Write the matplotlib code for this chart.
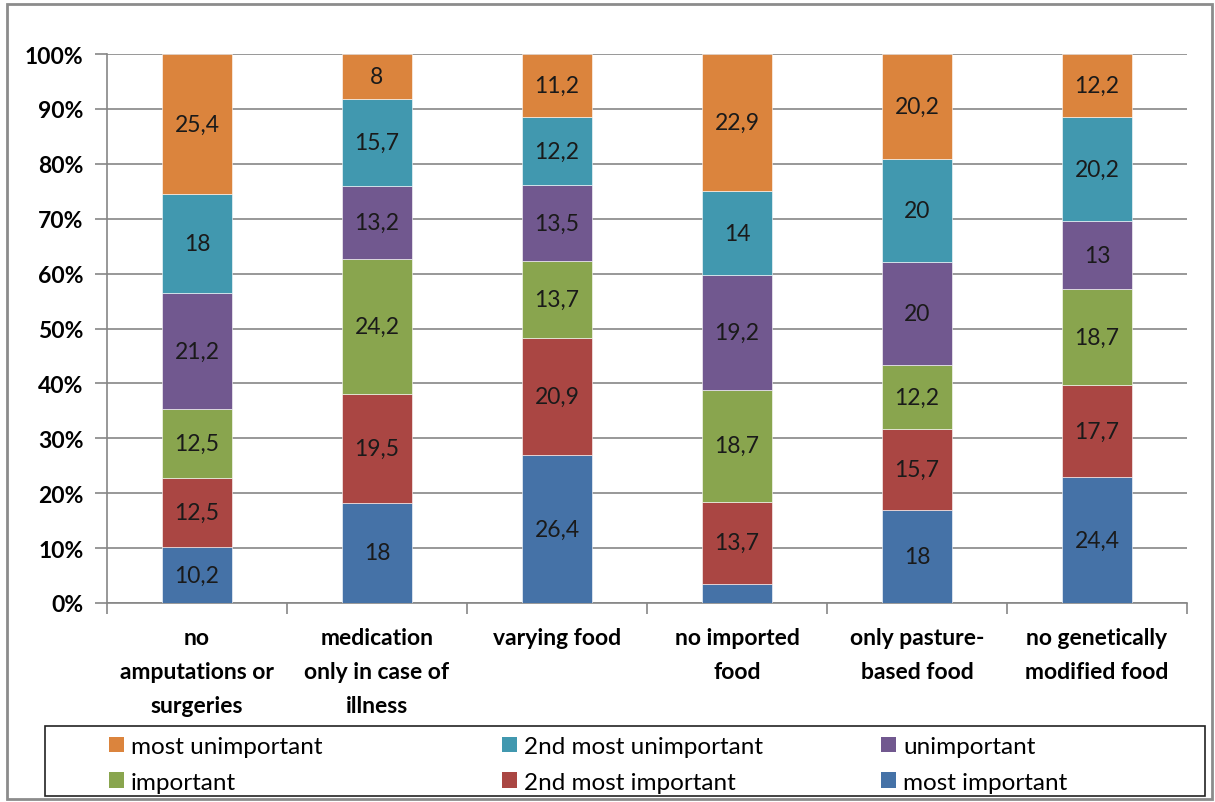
import matplotlib
matplotlib.use("Agg")
import matplotlib.pyplot as plt
from matplotlib.patches import Rectangle, Patch
import numpy as np

plt.rcParams['font.family'] = ['Lato', 'DejaVu Sans']

categories = ["no\namputations or\nsurgeries", "medication\nonly in case of\nillness",
              "varying food", "no imported\nfood", "only pasture-\nbased food",
              "no genetically\nmodified food"]
series_names = ["most important", "2nd most important", "important",
                "unimportant", "2nd most unimportant", "most unimportant"]
most_important = [10.2, 18, 26.4, 3.2, 18, 24.4]
second_most_important = [12.5, 19.5, 20.9, 13.7, 15.7, 17.7]
important = [12.5, 24.2, 13.7, 18.7, 12.2, 18.7]
unimportant = [21.2, 13.2, 13.5, 19.2, 20, 13]
second_most_unimportant = [18, 15.7, 12.2, 14, 20, 20.2]
most_unimportant = [25.4, 8, 11.2, 22.9, 20.2, 12.2]
# the small blue slice of "no imported food" carries no label in the original
hidden_labels = [(0, 3)]

colors = ["#4572A7", "#AA4643", "#89A54E", "#71588F", "#4198AF", "#DB843D"]

data = np.array([most_important, second_most_important, important,
                 unimportant, second_most_unimportant, most_unimportant])
pct = data / data.sum(axis=0) * 100

fig = plt.figure(figsize=(12.15, 8.03), dpi=100)
ax = fig.add_axes([107/1215, 1-604/803, 1080/1215, 549/803])

x = np.arange(len(categories))
bottom = np.zeros(len(categories))
for i, name in enumerate(series_names):
    ax.bar(x, pct[i], 0.39, bottom=bottom, color=colors[i],
           edgecolor="#ffffff", linewidth=0.4, zorder=3, label=name)
    for j in range(len(categories)):
        if (i, j) in hidden_labels:
            continue
        txt = ("%g" % data[i, j]).replace(".", ",")
        ax.text(x[j], bottom[j] + pct[i, j] / 2, txt, ha="center", va="center",
                fontsize=16.5, color="#1a1a1a", zorder=4)
    bottom += pct[i]

ax.set_xlim(-0.5, 5.5)
ax.set_ylim(0, 100)
ax.set_yticks(np.arange(0, 101, 10))
ax.set_yticklabels(["%d%%" % v for v in range(0, 101, 10)], fontsize=16.5,
                   fontweight="bold")
ax.set_xticks(x)
ax.set_xticklabels(categories, fontsize=16.5, fontweight="bold", linespacing=1.78)
ax.set_xticks(np.arange(-0.5, 6, 1), minor=True)
ax.tick_params(axis="x", which="major", length=0, pad=17)
ax.tick_params(axis="x", which="minor", length=8, color="#868686", width=1.2)
ax.tick_params(axis="y", length=9, color="#868686", width=1.2, pad=8)
ax.grid(axis="y", color="#868686", linewidth=1.2, zorder=0)
for s in ["top", "right"]:
    ax.spines[s].set_visible(False)
for s in ["left", "bottom"]:
    ax.spines[s].set_color("#868686")
    ax.spines[s].set_linewidth(1.2)

# legend box with three columns filled row by row
fig.add_artist(Rectangle((45/1215, 1-797/803), 1160/1215, 70/803,
                         transform=fig.transFigure, fill=False,
                         edgecolor="#222222", linewidth=1.2))
col_x = [92/1215, 485/1215, 864/1215]
order = [5, 4, 3, 2, 1, 0]
for c in range(3):
    idx = [order[c], order[c + 3]]
    hs = [Patch(facecolor=colors[k]) for k in idx]
    fig.legend(hs, [series_names[k] for k in idx], loc="upper left",
               bbox_to_anchor=(col_x[c], 1-720/803), frameon=False,
               fontsize=17.5, handlelength=0.6, handleheight=0.6,
               handletextpad=0.3, labelspacing=0.6, borderpad=0.2)

fig.add_artist(Rectangle((7/1215, 1-800/803), 1205/1215, 795/803,
                         transform=fig.transFigure, fill=False,
                         edgecolor="#8c8c8c", linewidth=2))

fig.savefig("out.png", dpi=100)
